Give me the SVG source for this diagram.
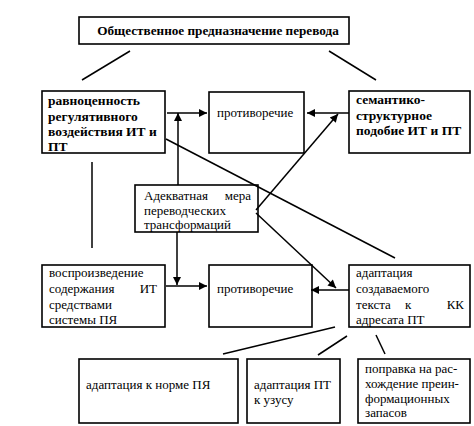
<svg xmlns="http://www.w3.org/2000/svg" width="474" height="426" viewBox="0 0 474 426">
<defs>
<marker id="arr" viewBox="0 0 10 10" refX="10" refY="5" markerWidth="10" markerHeight="8" markerUnits="userSpaceOnUse" orient="auto">
<path d="M0,0 L10,5 L0,10 z" fill="#000"/>
</marker>
</defs>
<style>
rect{fill:#fff;stroke:#000;stroke-width:1.6}
text{font-family:"Liberation Serif","Times New Roman",serif;font-size:13px;fill:#000}
.b{font-weight:bold;font-size:13.5px}
.t{font-weight:bold;font-size:13.2px}
#connectors line{stroke:#000;stroke-width:1.5}
.a{marker-end:url(#arr)}
</style>
<rect x="0" y="0" width="474" height="426" style="fill:#fff;stroke:none"/>
<g id="title"><rect x="79" y="17" width="270" height="27"/><text class="t" x="218" y="35" text-anchor="middle">Общественное предназначение перевода</text></g>
<g id="ravno"><rect x="42" y="91" width="123" height="62"/><text class="b"><tspan x="48" y="105">равноценность</tspan><tspan x="48" y="121">регулятивного</tspan><tspan x="48" y="136">воздействия ИТ и</tspan><tspan x="48" y="151">ПТ</tspan></text></g>
<g id="protiv1"><rect x="209" y="92" width="95" height="61"/><text x="217" y="117">противоречие</text></g>
<g id="semant"><rect x="349" y="91" width="121" height="62"/><text class="b"><tspan x="356" y="104">семантико-</tspan><tspan x="356" y="120">структурное</tspan><tspan x="356" y="135">подобие ИТ и ПТ</tspan></text></g>
<g id="adekv"><rect x="135" y="185" width="123" height="47"/><text><tspan x="144" y="200">Адекватная</tspan><tspan x="251" y="200" text-anchor="end">мера</tspan><tspan x="144" y="215">переводческих</tspan><tspan x="144" y="229">трансформаций</tspan></text></g>
<g id="vospr"><rect x="42" y="265" width="123" height="62"/><text><tspan x="49" y="277">воспроизведение</tspan><tspan x="49" y="293">содержания</tspan><tspan x="157" y="293" text-anchor="end">ИТ</tspan><tspan x="49" y="309">средствами</tspan><tspan x="49" y="324">системы ПЯ</tspan></text></g>
<g id="protiv2"><rect x="209" y="265" width="103" height="62"/><text x="217" y="293">противоречие</text></g>
<g id="adapt"><rect x="349" y="265" width="121" height="62"/><text><tspan x="356" y="277">адаптация</tspan><tspan x="356" y="293">создаваемого</tspan><tspan x="356" y="309">текста</tspan><tspan x="405" y="309">к</tspan><tspan x="464" y="309" text-anchor="end">КК</tspan><tspan x="356" y="324">адресата ПТ</tspan></text></g>
<g id="norma"><rect x="79" y="359" width="159" height="64"/><text x="86" y="389">адаптация к норме ПЯ</text></g>
<g id="uzus"><rect x="247" y="359" width="93" height="64"/><text><tspan x="254" y="389">адаптация ПТ</tspan><tspan x="254" y="404">к узусу</tspan></text></g>
<g id="popravka"><rect x="358" y="359" width="112" height="64"/><text><tspan x="365" y="373">поправка на рас-</tspan><tspan x="365" y="388">хождение преин-</tspan><tspan x="365" y="403">формационных</tspan><tspan x="365" y="417">запасов</tspan></text></g>
<g id="connectors">
<line x1="130" y1="51" x2="82" y2="80"/>
<line x1="329" y1="51" x2="376" y2="80"/>
<line class="a" x1="167" y1="113" x2="207" y2="113"/>
<line class="a" x1="349" y1="113" x2="307" y2="113"/>
<line class="a" x1="178" y1="185" x2="178" y2="113"/>
<line x1="92" y1="162" x2="92" y2="248"/>
<line x1="166" y1="139" x2="395" y2="258"/>
<line class="a" x1="256" y1="210" x2="338" y2="114"/>
<line class="a" x1="256" y1="213" x2="336" y2="288"/>
<line class="a" x1="177" y1="232" x2="177" y2="285"/>
<line class="a" x1="166" y1="286" x2="207" y2="286"/>
<line class="a" x1="349" y1="290" x2="311" y2="290"/>
<line x1="335" y1="327" x2="223" y2="354"/>
<line x1="347" y1="336" x2="318" y2="355"/>
<line x1="376" y1="335" x2="385" y2="354"/>
</g>
</svg>
